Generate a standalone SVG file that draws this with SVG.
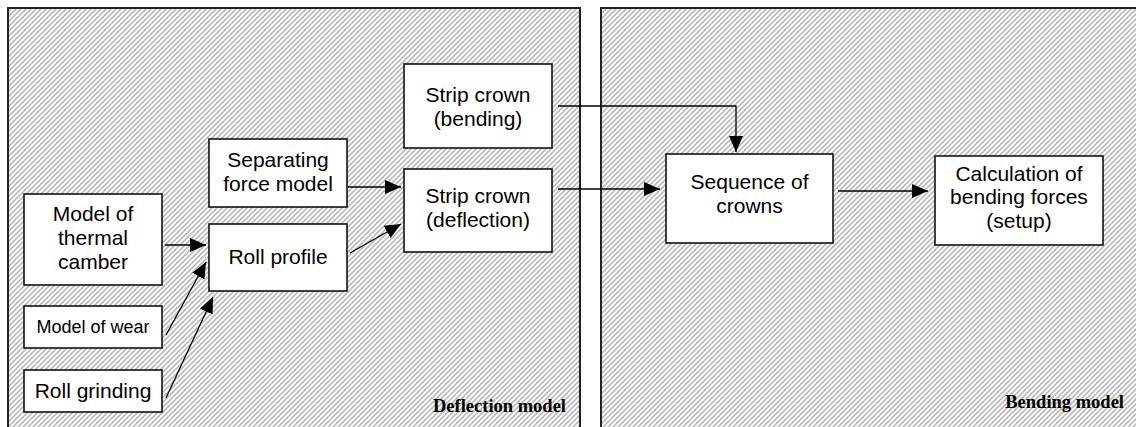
<svg xmlns="http://www.w3.org/2000/svg" width="1136" height="427" viewBox="0 0 1136 427">
  <defs>
    <!-- diagonal hatching used as panel background -->
    <pattern id="hatch" patternUnits="userSpaceOnUse" width="5" height="5">
      <rect width="5" height="5" fill="#ffffff"/>
      <path d="M-1,1 L1,-1 M0,5 L5,0 M4,6 L6,4" stroke="#bababa" stroke-width="1.6"/>
    </pattern>
    <marker id="arrow" markerUnits="userSpaceOnUse" markerWidth="17" markerHeight="15" refX="16" refY="7" orient="auto">
      <path d="M0,0 L16,7 L0,14 Z" fill="#000"/>
    </marker>
  </defs>
  <style>
    .panel { fill: url(#hatch); stroke: #222; stroke-width: 2; }
    .box { fill: #fff; stroke: #111; stroke-width: 1.6; }
    .t { font-family: "Liberation Sans", Arial, sans-serif; font-size: 21px; fill: #000; text-anchor: middle; }
    .ts { font-size: 18px; }
    .cap { font-family: "Liberation Serif", "Times New Roman", serif; font-weight: bold; font-size: 18.5px; fill: #000; text-anchor: end; }
    .conn { fill: none; stroke: #000; stroke-width: 1.3; }
  </style>

  <rect width="1136" height="427" fill="#fff"/>

  <!-- panels -->
  <g id="panel-deflection">
    <rect class="panel" x="8" y="8" width="572" height="430"/>
    <text class="cap" x="566" y="412">Deflection model</text>
  </g>
  <g id="panel-bending">
    <rect class="panel" x="601" y="8" width="545" height="430"/>
    <text class="cap" x="1124" y="408">Bending model</text>
  </g>

  <!-- nodes -->
  <g id="node-thermal">
    <rect class="box" x="24" y="194" width="138" height="91"/>
    <text class="t" x="93" y="221">Model of</text>
    <text class="t" x="93" y="245">thermal</text>
    <text class="t" x="93" y="269">camber</text>
  </g>
  <g id="node-wear">
    <rect class="box" x="24" y="306" width="138" height="42"/>
    <text class="t ts" x="93" y="333">Model of wear</text>
  </g>
  <g id="node-grinding">
    <rect class="box" x="24" y="370" width="138" height="42"/>
    <text class="t" x="93" y="398">Roll grinding</text>
  </g>
  <g id="node-separating">
    <rect class="box" x="209" y="139" width="138" height="68"/>
    <text class="t" x="278" y="167">Separating</text>
    <text class="t" x="278" y="191">force model</text>
  </g>
  <g id="node-roll-profile">
    <rect class="box" x="209" y="224" width="138" height="67"/>
    <text class="t" x="278" y="264">Roll profile</text>
  </g>
  <g id="node-crown-bending">
    <rect class="box" x="404" y="64" width="148" height="84"/>
    <text class="t" x="478" y="102">Strip crown</text>
    <text class="t" x="478" y="126">(bending)</text>
  </g>
  <g id="node-crown-deflection">
    <rect class="box" x="404" y="169" width="148" height="83"/>
    <text class="t" x="478" y="203">Strip crown</text>
    <text class="t" x="478" y="227">(deflection)</text>
  </g>
  <g id="node-sequence">
    <rect class="box" x="666" y="154" width="167" height="89"/>
    <text class="t" x="749.5" y="189">Sequence of</text>
    <text class="t" x="749.5" y="213">crowns</text>
  </g>
  <g id="node-calculation">
    <rect class="box" x="935" y="156" width="168" height="89"/>
    <text class="t" x="1019" y="181">Calculation of</text>
    <text class="t" x="1019" y="204">bending forces</text>
    <text class="t" x="1019" y="228">(setup)</text>
  </g>

  <!-- connectors -->
  <g id="connectors">
    <path class="conn" marker-end="url(#arrow)" d="M165,245 L206,245"/>
    <path class="conn" marker-end="url(#arrow)" d="M166,335 L206,262"/>
    <path class="conn" marker-end="url(#arrow)" d="M166,398 L213,297"/>
    <path class="conn" marker-end="url(#arrow)" d="M348,187 L401,187"/>
    <path class="conn" marker-end="url(#arrow)" d="M350,253 L401,224"/>
    <path class="conn" marker-end="url(#arrow)" d="M558,189 L660,189"/>
    <path class="conn" marker-end="url(#arrow)" d="M558,106 L736,106 L736,152"/>
    <path class="conn" marker-end="url(#arrow)" d="M838,191 L928,191"/>
  </g>
</svg>
